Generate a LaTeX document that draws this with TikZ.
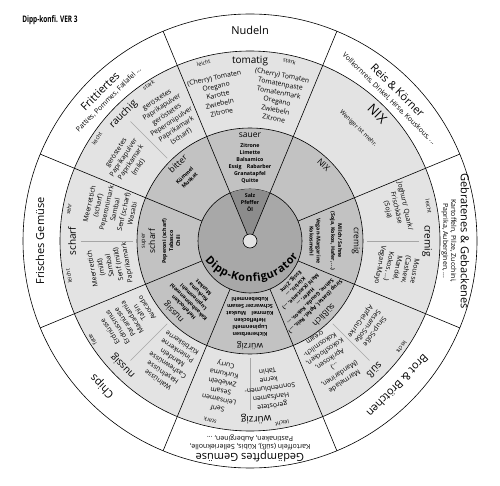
\documentclass[tikz,border=0pt]{standalone}
\usepackage{fontspec}
\setmainfont{Open Sans}
\usetikzlibrary{calc,decorations.text}
\definecolor{ringL}{gray}{0.89}
\definecolor{ringM}{gray}{0.76}
\definecolor{ringD}{gray}{0.66}
\definecolor{ringW}{gray}{0.55}
\newcommand\lab[5]{\node[#4,rotate=#2-90] (#1) at ($(C)+(#2:#3)$) {#5};}
\begin{document}
\begin{tikzpicture}[x=1pt,y=1pt,
  every node/.style={inner sep=0pt,align=center},
  cat/.style={font=\fontsize{11}{12}\selectfont},
  sub/.style={font=\fontsize{7}{8}\selectfont},
  flv/.style={font=\fontsize{10}{11}\selectfont},
  lst/.style={font=\fontsize{6.8}{8.8}\selectfont},
  tiny/.style={font=\fontsize{5.5}{6}\selectfont},
  mhd/.style={font=\fontsize{8.5}{9}\selectfont},
  mls/.style={font=\bfseries\fontsize{5.3}{7}\selectfont},
  ring/.style={draw=black,line width=0.6pt},
  divi/.style={draw=gray!70,line width=0.5pt}]
\useasboundingbox (0,0) rectangle (500,485);
\coordinate (C) at (250,244);
\coordinate (CA) at (250,261);
% rings
\draw[ring,fill=white] (C) circle (227);
\draw[ring,fill=ringL] (C) circle (190);
\draw[ring,fill=ringM] (C) circle (113);
\draw[ring,fill=ringD] (C) circle (52);
\fill[ringW] (C) -- ($(C)+(67.5:52)$) arc[start angle=67.5,end angle=112.5,radius=52] -- cycle;
\foreach \a in {22.5,67.5,...,337.5}{\draw[ring] ($(C)+(\a:52)$) -- ($(C)+(\a:227)$);}
\draw[ring] (C) -- ($(C)+(67.5:52)$);
\draw[ring] (C) -- ($(C)+(112.5:52)$);
\draw[ring,fill=ringL] (C) circle (7);
% sub dividers
\foreach \a in {0,-45,-90,-135,180,135}{\draw[divi] ($(C)+(\a:117)$) -- ($(C)+(\a:169)$);}
% title
\node[font=\bfseries\fontsize{9}{10}\selectfont] (title) at (50,465) {\scalebox{0.72}[1]{Dipp-konfi. VER 3}};
% centre
\path[decorate,decoration={text along path,text align=fit to path,
  text={|\bfseries\fontsize{11}{12}\selectfont|Dipp-Konfigurator}}]
  ($(CA)+(219:58)$) arc[start angle=219,end angle=326,radius=58];
\lab{salz}{90}{38}{mls}{Salz\\Pfeffer\\Öl}
% top
\lab{nudeln}{90}{211}{cat}{Nudeln}
\lab{tomatig}{90}{180}{flv}{tomatig}
\lab{tl}{104.6}{184}{tiny}{leicht}
\lab{ts}{77.6}{184}{tiny}{stark}
\lab{tcl}{102.4}{149.5}{lst}{(Cherry) Tomaten\\Oregano\\Karotte\\Zwiebeln\\Zitrone}
\lab{tcr}{79}{147}{lst}{(Cherry) Tomaten\\Tomatenpaste\\Tomatenmark\\Oregano\\Zwiebeln\\Zitrone}
\lab{sauer}{90}{106}{mhd}{sauer}
\lab{sauerl}{90}{77.5}{mls}{Zitrone\\Limette\\Balsamico\\Essig\quad Rabarber\\Granatapfel\\Quitte}
% upper right
\lab{reis}{45.6}{211}{cat}{Reis \& Körner}
\lab{reiss}{45.6}{199}{sub}{Vollkornreis, Dinkel, Hirse, Kouskous, ...}
\lab{nix}{45}{180}{font=\fontsize{13}{14}\selectfont}{NIX}
\lab{wenig}{46}{156}{font=\fontsize{6}{7}\selectfont}{Weniger ist mehr.}
\lab{nixm}{46}{106}{mhd}{NIX}
% right
\lab{gebr}{0}{215}{cat}{Gebratenes \& Gebackenes}
\lab{gebrs}{0}{199}{sub}{Kartoffeln, Pilze, Zucchini,\\Paprika, Auberginen, ...}
\lab{cremig}{0}{177}{flv}{cremig}
\lab{cl}{11}{182}{tiny}{leicht}
\lab{ccl}{12.7}{150}{lst}{Joghurt/ Quark/\\Frischkäse\\(Soja)}
\lab{ccr}{-10.4}{149.5}{lst}{Mousse\\(Cashew,\\Mandel,\\Kokos, ...)\\Vegan-Mayo}
\lab{cremigm}{0}{106}{mhd}{cremig}
\lab{cremigl}{0}{86}{mls}{Milch/ Sahne\\(Soja, Kokos, Hafer, ...)}
\lab{cremigl2}{0}{65}{mls}{Vegan-Margarine\\Kokosmehl}
% lower right
\lab{brot}{-44.5}{207}{cat}{Brot \& Brötchen}
\lab{suess}{-46}{179.6}{flv}{süß}
\lab{sl}{-35}{185}{tiny}{leicht}
\lab{sca}{-36}{145}{lst}{Sirup-Soße\\Sesam-Soße\\Apfel-Gurke}
\lab{scb}{-56}{143}{lst}{Marmelade\\(Mandarinen,\\...)\\Aprikosen,\\Kokosflocken,\\Kokosmilch-\\cream}
\lab{suessm}{-45}{105}{mhd}{süßlich}
\lab{suessl}{-45}{75}{mls}{Sirup (Dattel, Apfel, Reis, ...)\\Sahne, Gouda, Kokos, ...\\Hafer, ...\\Mehl (Kastanie, ...)\\Kürbis, ...\\Essig, Zimt}
% bottom
\lab{gedae}{-90}{215}{cat}{Gedämpftes Gemüse}
\lab{gedaes}{-90}{201.5}{sub}{Kartoffeln (süß), Kübis, Sellerieknolle,\\Pastinaken, Auberginen, ...}
\lab{wuerz}{-88}{178}{flv}{würzig}
\lab{ws}{-102.5}{184}{tiny}{stark}
\lab{wl}{-80}{185}{tiny}{leicht}
\lab{wcl}{-101}{148}{lst}{Senf\\Leinsamen\\Sesam\\Zwiebeln\\Kurkuma\\Curry}
\lab{wcr}{-82.3}{149}{lst}{geröstete\\Hanfsamen\\Sonnenblumen-\\kerne\\Tahin}
\lab{wuerzm}{-90}{105}{mhd}{würzig}
\lab{wuerzl}{-90}{76}{mls}{Kichererbsen\\Lupinenmehl\\Hefeflocken\\Kümmel\quad Muskat\\Schwarzer Sesam\\Kubebenmehl}
% lower left
\lab{chips}{-135.5}{207}{cat}{Chips}
\lab{nuss}{-135.5}{178}{flv}{nussig}
\lab{nf}{-148}{186}{tiny}{fette}
\lab{ncl}{-147}{145}{lst}{Erdnüsse\\Erdnussmus\\Paranüsse\\Macadamia\\Tahin\\Avocado}
\lab{ncr}{-123.5}{145}{lst}{Walnüsse\\Haselnüsse\\Cashewnüsse\\Mandeln\\Pinienkerne\\Kürbiskerne}
\lab{nussm}{-137}{104}{mhd}{nussig}
\lab{nussl}{-135}{80}{mls}{Hefeflocken\\Kakaobohnenmehl\\Lupinenmehl\\Kurkuma\\Muskat}
% left
\lab{frisch}{180}{210}{cat}{Frisches Gemüse}
\lab{scharf}{180}{178}{flv}{scharf}
\lab{sh}{170}{184}{tiny}{sehr}
\lab{shl}{191}{184.5}{tiny}{leicht}
\lab{shc1}{167}{143}{lst}{Meerrettich\\(scharf)\\Peperonimark\\Sambal\\Senf (scharf)\\Wasabi}
\lab{shc2}{190}{142}{lst}{Meerrettich\\(mild)\\Sambal\\Senf (mild)\\Paprikamark}
\lab{super}{180}{106}{tiny}{super}
\lab{scharfm}{180}{98}{mhd}{scharf}
\lab{scharfl}{180}{79}{mls}{Peperoni (scharf)\\Tabasco\\Chili}
% upper left
\lab{fritt}{135}{212}{cat}{Frittiertes}
\lab{fritts}{135}{200}{sub}{Patties, Pommes, Fallafel ...}
\lab{rauch}{135}{179}{flv}{rauchig}
\lab{rs}{123}{186}{tiny}{stark}
\lab{rl}{146.3}{184}{tiny}{leicht}
\lab{rcs}{123.4}{147}{lst}{geröstetes\\Paprikapulver\\geröstetes\\Peperonipulver\\Paprikamark\\(scharf)}
\lab{rcl}{146.6}{147}{lst}{geröstetes\\Paprikapulver\\Paprikamark\\(mild)}
\lab{bitter}{133}{106}{mhd}{bitter}
\lab{bitterl}{135}{89}{mls}{Kümmel\\Muskat}
\end{tikzpicture}
\end{document}
